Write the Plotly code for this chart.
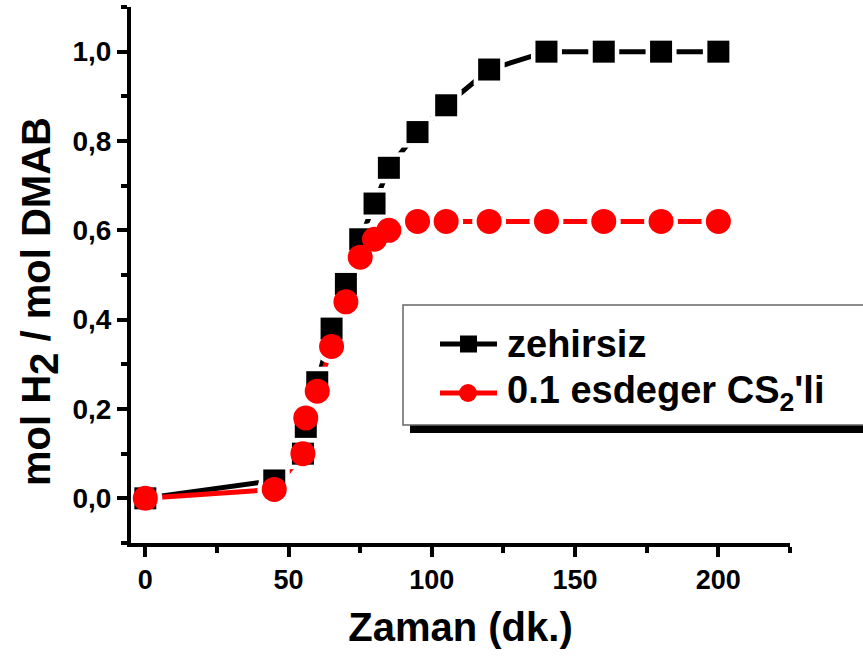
import plotly.graph_objects as go

# ---- data ----
time_min = [0, 45, 55, 56, 60, 65, 70, 75, 80, 85, 95, 105, 120, 140, 160, 180, 200]
zehirsiz = [0.00, 0.04, 0.10, 0.16, 0.26, 0.38, 0.48, 0.58, 0.66, 0.74, 0.82, 0.88, 0.96, 1.00, 1.00, 1.00, 1.00]
cs2 = [0.00, 0.02, 0.10, 0.18, 0.24, 0.34, 0.44, 0.54, 0.58, 0.60, 0.62, 0.62, 0.62, 0.62, 0.62, 0.62, 0.62]
series_names = ["zehirsiz", "0.1 esdeger CS<sub>2</sub>'li"]
x_ticks = [0, 50, 100, 150, 200]
y_ticks = [0.0, 0.2, 0.4, 0.6, 0.8, 1.0]
x_title = "Zaman (dk.)"
y_title = "mol H<sub><span style='font-size:40px'>2</span></sub> / mol DMAB"

W, H = 863, 657
ML, MR, MT, MB = 131, 73, 7, 114
PW, PH = W - ML - MR, H - MT - MB

FONT = "Liberation Sans, Arial, sans-serif"

def px(x):
    return (x - ML) / PW

def py(y):
    return (H - MB - y) / PH

fig = go.Figure()

# lines
fig.add_trace(go.Scatter(x=time_min, y=zehirsiz, mode="lines",
                         line=dict(color="black", width=5), showlegend=False, hoverinfo="skip"))
fig.add_trace(go.Scatter(x=time_min, y=cs2, mode="lines",
                         line=dict(color="red", width=5), showlegend=False, hoverinfo="skip"))
# white gaps around symbols
fig.add_trace(go.Scatter(x=time_min, y=zehirsiz, mode="markers",
                         marker=dict(symbol="square", size=31, color="white", line=dict(width=0)),
                         showlegend=False, hoverinfo="skip"))
fig.add_trace(go.Scatter(x=time_min, y=cs2, mode="markers",
                         marker=dict(symbol="circle", size=34, color="white", line=dict(width=0)),
                         showlegend=False, hoverinfo="skip"))
# symbols
fig.add_trace(go.Scatter(x=time_min, y=zehirsiz, mode="markers", name=series_names[0],
                         marker=dict(symbol="square", size=22, color="black", line=dict(width=0)),
                         showlegend=False))
fig.add_trace(go.Scatter(x=time_min, y=cs2, mode="markers", name=series_names[1],
                         marker=dict(symbol="circle", size=25, color="red", line=dict(width=0)),
                         showlegend=False))

# ---- legend box (drawn manually, Origin style with shadow) ----
shapes = []
shapes.append(dict(type="rect", xref="paper", yref="paper",
                   x0=px(410), x1=px(880), y0=py(433), y1=py(312),
                   fillcolor="black", line=dict(width=0), layer="above"))
shapes.append(dict(type="rect", xref="paper", yref="paper",
                   x0=px(403), x1=px(880), y0=py(425), y1=py(305),
                   fillcolor="white", line=dict(color="#666666", width=1.5), layer="above"))
rows = [(344, "black", "square"), (393, "red", "circle")]
for yy, col, sym in rows:
    shapes.append(dict(type="line", xref="paper", yref="paper",
                       x0=px(440), x1=px(497), y0=py(yy), y1=py(yy),
                       line=dict(color=col, width=5), layer="above"))
    if sym == "square":
        shapes.append(dict(type="rect", xref="paper", yref="paper",
                           x0=px(460), x1=px(477), y0=py(yy + 8.5), y1=py(yy - 8.5),
                           fillcolor=col, line=dict(width=0), layer="above"))
    else:
        shapes.append(dict(type="circle", xref="paper", yref="paper",
                           x0=px(459), x1=px(477), y0=py(yy + 9), y1=py(yy - 9),
                           fillcolor=col, line=dict(width=0), layer="above"))

annotations = []
for (yy, col, sym), name in zip(rows, series_names):
    annotations.append(dict(xref="paper", yref="paper", x=px(505), y=py(yy),
                            xanchor="left", yanchor="middle", showarrow=False,
                            text="<b>" + name + "</b>",
                            font=dict(family=FONT, size=38, color="black")))
# y-axis title
annotations.append(dict(xref="paper", yref="paper", x=px(40), y=py(302),
                        xanchor="center", yanchor="middle", showarrow=False, textangle=-90,
                        text="<b>" + y_title + "</b>",
                        font=dict(family=FONT, size=40, color="black")))

fig.update_layout(
    width=W, height=H,
    margin=dict(l=ML, r=MR, t=MT, b=MB, pad=0),
    paper_bgcolor="white", plot_bgcolor="white",
    separators=",.",
    shapes=shapes, annotations=annotations,
    showlegend=False,
)

fig.update_xaxes(
    range=[-5, 225], showgrid=False, zeroline=False,
    showline=True, linecolor="black", linewidth=4,
    tickmode="array", tickvals=x_ticks,
    ticks="outside", ticklen=10, tickwidth=4, tickcolor="black",
    minor=dict(dtick=25, tick0=0, ticks="outside", ticklen=6, tickwidth=4, tickcolor="black"),
    tickfont=dict(family=FONT, size=27, color="black", weight="bold"),
    title=dict(text="<b>" + x_title + "</b>", font=dict(family=FONT, size=40, color="black"), standoff=20),
)
fig.update_yaxes(
    range=[-0.1, 1.1], showgrid=False, zeroline=False,
    showline=True, linecolor="black", linewidth=4,
    tickmode="array", tickvals=y_ticks, tickformat=".1f",
    ticks="outside", ticklen=10, tickwidth=4, tickcolor="black",
    minor=dict(dtick=0.1, tick0=0, ticks="outside", ticklen=6, tickwidth=4, tickcolor="black"),
    tickfont=dict(family=FONT, size=28, color="black", weight="bold"),
)

fig.write_html("out.html")
